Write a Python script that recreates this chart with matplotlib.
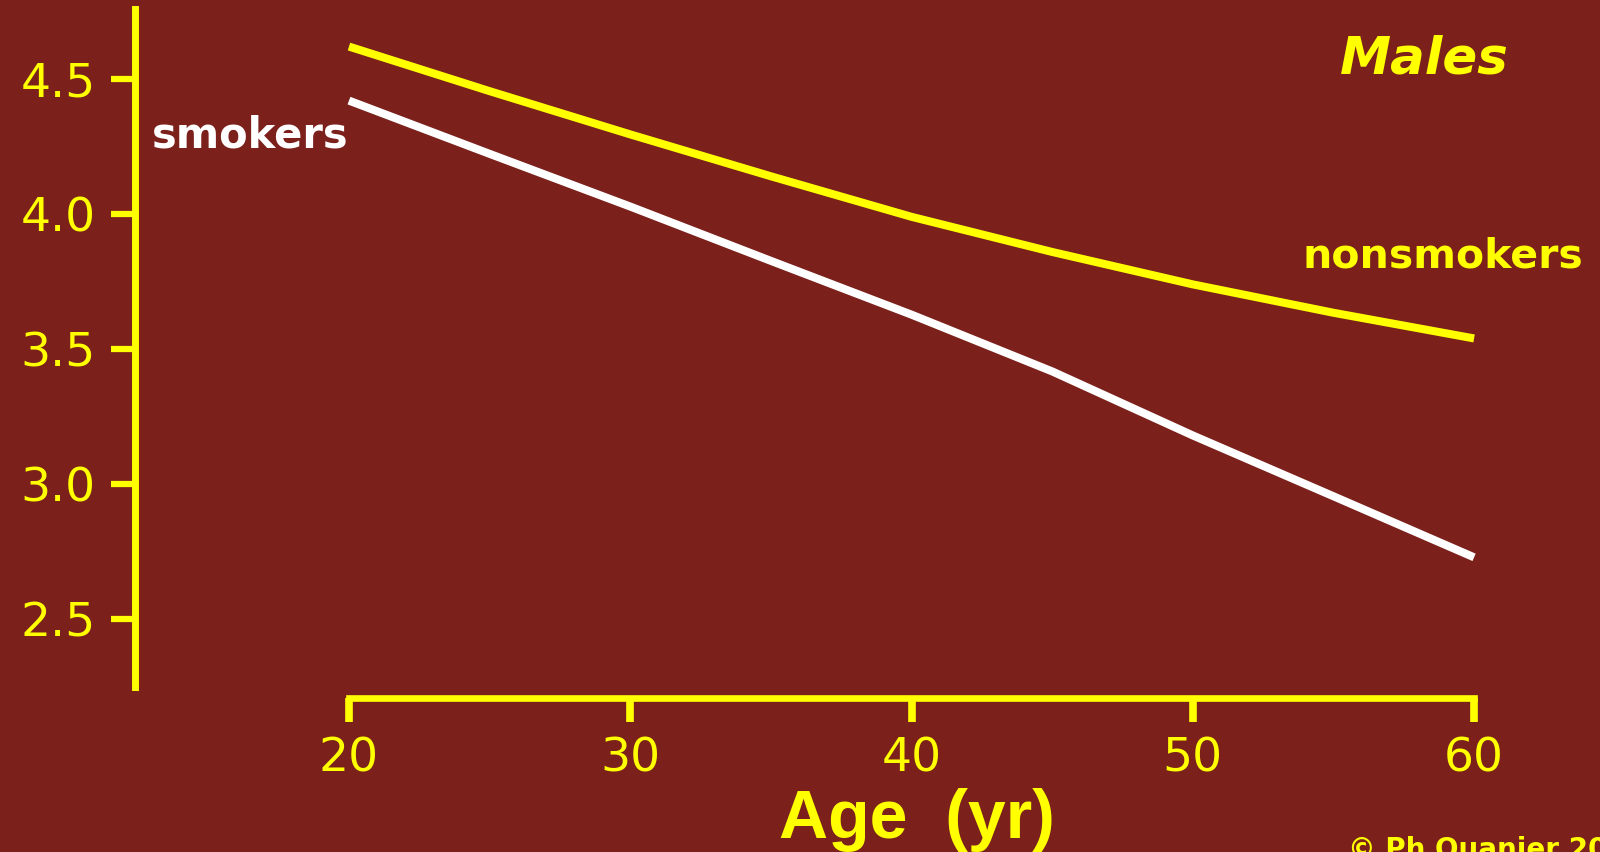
import matplotlib
matplotlib.use("Agg")
import matplotlib.pyplot as plt

# ---- data ----
ages = [20, 25, 30, 35, 40, 45, 50, 55, 60]
nonsmokers = [4.62, 4.455, 4.295, 4.14, 3.99, 3.86, 3.74, 3.635, 3.54]
smokers = [4.42, 4.223, 4.028, 3.827, 3.628, 3.418, 3.181, 2.956, 2.73]
x_ticks = [20, 30, 40, 50, 60]
y_ticks = [2.5, 3.0, 3.5, 4.0, 4.5]
y_tick_labels = ["2.5", "3.0", "3.5", "4.0", "4.5"]

BG = "#7b201b"
YEL = "#ffff00"
WHITE = "#ffffff"

W, H = 1600, 852
fig = plt.figure(figsize=(W / 100, H / 100), dpi=100, facecolor=BG)

# axes geometry in pixels
left_px, right_px = 134.5, 1480
bottom_px, top_px = 698, 9
ax = fig.add_axes([left_px / W, (H - bottom_px) / H,
                   (right_px - left_px) / W, (bottom_px - top_px) / H])
ax.set_facecolor(BG)

ax.plot(ages, nonsmokers, color=YEL, lw=5.8, solid_capstyle="butt")
ax.plot(ages, smokers, color=WHITE, lw=5.8, solid_capstyle="butt")

ax.set_xlim(12.375, 60.21)
ax.set_ylim(2.2095, 4.759)

for s in ["top", "right"]:
    ax.spines[s].set_visible(False)
ax.spines["left"].set_color(YEL)
ax.spines["left"].set_linewidth(5)
ax.spines["left"].set_bounds(2.25, 4.759)
ax.spines["bottom"].set_color(YEL)
ax.spines["bottom"].set_linewidth(4.8)
ax.spines["bottom"].set_bounds(20, 60)
ax.spines["bottom"].set_capstyle("projecting")

ax.set_xticks(x_ticks)
ax.set_xticklabels([str(v) for v in x_ticks])
ax.set_yticks(y_ticks)
ax.set_yticklabels(y_tick_labels)
ax.tick_params(axis="y", colors=YEL, length=17, width=4.5, pad=11,
               labelsize=34, direction="out")
ax.tick_params(axis="x", colors=YEL, length=17, width=5.5, pad=10.5,
               labelsize=34, direction="out")
for lab in ax.get_xticklabels() + ax.get_yticklabels():
    lab.set_fontfamily("DejaVu Sans")
    lab.set_color(YEL)

ax.set_xlabel("Age  (yr)", color=YEL, fontsize=49, fontweight="bold",
              fontfamily="Liberation Sans")
ax.xaxis.set_label_coords((917 - left_px) / (right_px - left_px),
                          (bottom_px - 838) / (bottom_px - top_px))
ax.xaxis.label.set_va("baseline")

# annotations
fig.text(152 / W, (H - 148) / H, "smokers", color=WHITE, fontsize=30,
         fontweight="bold", family="DejaVu Sans", ha="left", va="baseline")
fig.text(1302 / W, (H - 268) / H, "nonsmokers", color=YEL, fontsize=29.5,
         fontweight="bold", family="DejaVu Sans", ha="left", va="baseline")
fig.text(1340 / W, (H - 74) / H, "Males", color=YEL, fontsize=37,
         fontweight="bold", fontstyle="italic", family="DejaVu Sans",
         ha="left", va="baseline")
fig.text(1348 / W, (H - 858) / H, "© Ph Quanjer 20", color=YEL, fontsize=20,
         fontweight="bold", family="DejaVu Sans", ha="left", va="baseline")

fig.savefig("out.png", dpi=100, facecolor=BG)
